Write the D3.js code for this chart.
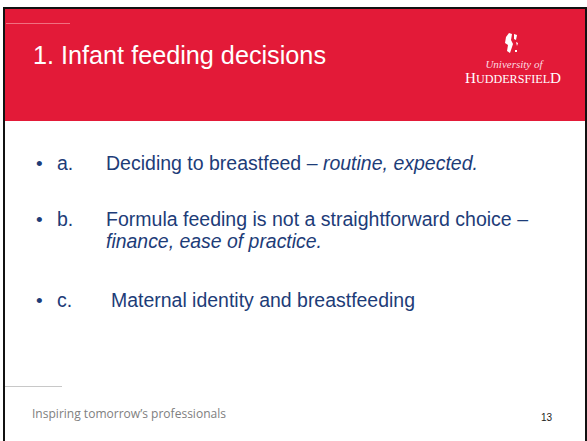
<!DOCTYPE html>
<html><head><meta charset="utf-8">
<script src="https://cdn.jsdelivr.net/npm/d3@7"></script>
<style>html,body{margin:0;padding:0;background:#fff;overflow:hidden}</style>
</head><body>
<svg id="s" width="587" height="441"></svg>
<script>
const title = "1. Infant feeding decisions";
const bulletLabels = ["a.", "b.", "c."];
const bulletLines = [
  [[{t:"Deciding to breastfeed – ", i:false},{t:"routine, expected.", i:true}]],
  [[{t:"Formula feeding is not a straightforward choice –", i:false}],
   [{t:"finance, ease of practice.", i:true}]],
  [[{t:"Maternal identity and breastfeeding", i:false}]]
];
const lineWidths = [[372],[422,216],[304]];
const bulletBaselines = [170, 226, 307];
const bulletTextX = [106, 106, 111];
const footerText = "Inspiring tomorrow\u2019s professionals";
const pageNumber = "13";

const svg = d3.select("#s");
const red = "#e31a38", navy = "#1d3c78";

// header
svg.append("rect").attr("x",5).attr("y",9).attr("width",580).attr("height",112).attr("fill",red);
svg.append("line").attr("x1",6).attr("x2",70).attr("y1",23.5).attr("y2",23.5).attr("stroke","#f07080").attr("stroke-width",1.2);
// borders
svg.append("rect").attr("x",3).attr("y",7).attr("width",582).attr("height",2).attr("fill","#111");
svg.append("rect").attr("x",3).attr("y",7).attr("width",2).attr("height",434).attr("fill","#111");
svg.append("rect").attr("x",585).attr("y",7).attr("width",2).attr("height",434).attr("fill","#111");

svg.append("text").attr("x",33).attr("y",64).attr("fill","#fff")
  .attr("font-family","Liberation Sans, Arial, sans-serif").attr("font-size",25.5)
  .attr("textLength",293).attr("lengthAdjust","spacingAndGlyphs").text(title);

// logo
const lg = svg.append("g").attr("fill","#fff");
lg.append("path").attr("d","M509,33 L512,34 L511,40 L513,44 L510,53 L507,51 L508,45 L505,43 L506,37 Z");
lg.append("path").attr("d","M514,34 L517,35 L516,40 L514,39 Z");
lg.append("path").attr("d","M516,42 L518,43 L517,46 Z");
lg.append("rect").attr("x",515).attr("y",50).attr("width",2).attr("height",2);
lg.append("text").attr("x",514).attr("y",68).attr("text-anchor","middle")
  .attr("font-family","Liberation Serif, serif").attr("font-style","italic").attr("font-size",11).attr("fill","#fbdde2").text("University of");
const hud = lg.append("text").attr("x",513).attr("y",83).attr("text-anchor","middle")
  .attr("font-family","Liberation Serif, serif").attr("font-size",15).attr("textLength",96).attr("lengthAdjust","spacingAndGlyphs");
hud.append("tspan").text("H");
hud.append("tspan").attr("font-size",12).text("UDDERSFIEL");
hud.append("tspan").text("D");

// bullets
const bf = "Liberation Sans, Arial, sans-serif";
bulletLabels.forEach((lab,k)=>{
  const y = bulletBaselines[k];
  svg.append("text").attr("x",36).attr("y",y).attr("fill",navy).attr("font-family",bf).attr("font-size",19).text("\u2022");
  svg.append("text").attr("x",57).attr("y",y).attr("fill",navy).attr("font-family",bf).attr("font-size",19.5).text(lab);
  bulletLines[k].forEach((line,j)=>{
    const t = svg.append("text").attr("x",bulletTextX[k]).attr("y",y + j*22).attr("fill",navy)
      .attr("font-family",bf).attr("font-size",19.5)
      .attr("textLength",lineWidths[k][j]).attr("lengthAdjust","spacingAndGlyphs");
    line.forEach(seg=>t.append("tspan").attr("font-style",seg.i?"italic":"normal").text(seg.t));
  });
});

// footer
svg.append("line").attr("x1",5).attr("x2",62).attr("y1",386.5).attr("y2",386.5).attr("stroke","#c8c8c8").attr("stroke-width",1);
svg.append("text").attr("x",32).attr("y",418).attr("fill","#808080")
  .attr("font-family","Open Sans, sans-serif").attr("font-size",13.5)
  .attr("textLength",194).attr("lengthAdjust","spacingAndGlyphs").text(footerText);
svg.append("text").attr("x",541).attr("y",421).attr("fill","#222")
  .attr("font-family",bf).attr("font-size",10).text(pageNumber);
</script>
</body></html>
